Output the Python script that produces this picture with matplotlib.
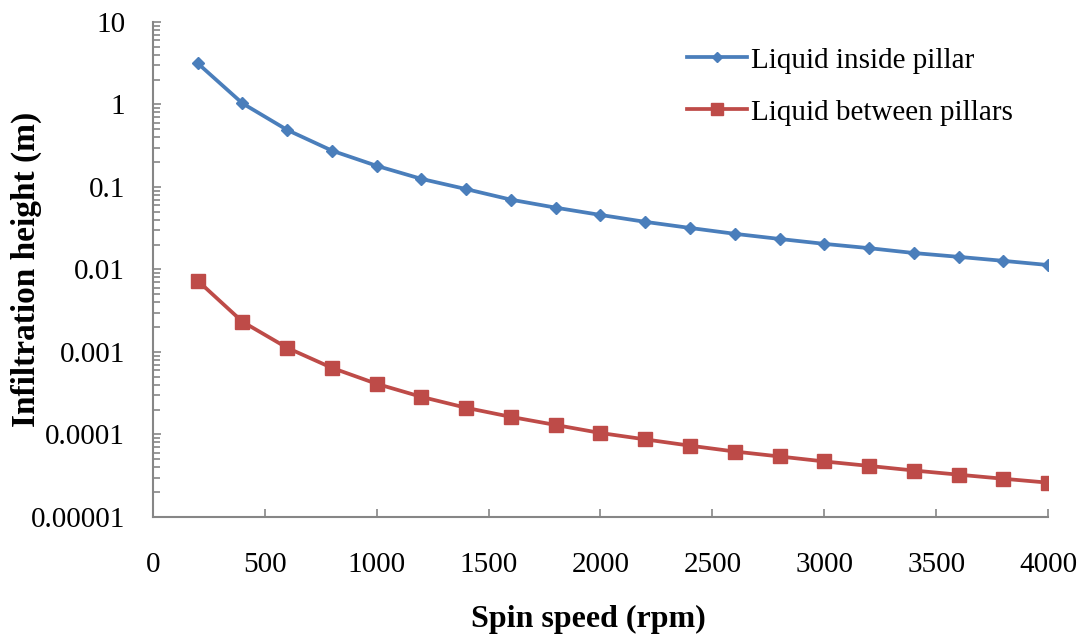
import matplotlib
matplotlib.use("Agg")
import matplotlib.pyplot as plt
from matplotlib.ticker import LogLocator, FixedLocator, FixedFormatter, NullFormatter

# Datos
rpm = [200, 400, 600, 800, 1000, 1200, 1400, 1600, 1800, 2000,
       2200, 2400, 2600, 2800, 3000, 3200, 3400, 3600, 3800, 4000]
inside_pillar = [3.15, 1.03, 0.49, 0.275, 0.18, 0.125, 0.094, 0.070, 0.056, 0.0457,
                 0.0377, 0.0318, 0.0270, 0.0234, 0.0204, 0.0181, 0.0158, 0.0142, 0.0127, 0.0113]
between_pillars = [0.0073, 0.00232, 0.00112, 0.00064, 0.00041, 0.000285, 0.00021, 0.000163,
                   0.00013, 0.000104, 8.7e-5, 7.3e-5, 6.2e-5, 5.4e-5, 4.7e-5, 4.15e-5,
                   3.65e-5, 3.25e-5, 2.9e-5, 2.6e-5]

x_ticks = [0, 500, 1000, 1500, 2000, 2500, 3000, 3500, 4000]
y_ticks = [1e-5, 1e-4, 1e-3, 1e-2, 1e-1, 1, 10]
y_labels = ["0.00001", "0.0001", "0.001", "0.01", "0.1", "1", "10"]

plt.rcParams['font.family'] = ['Liberation Serif', 'DejaVu Serif']

fig = plt.figure(figsize=(10.81, 6.35), dpi=100)
ax = fig.add_axes([0.1415, 0.186, 0.828, 0.7795])

blue = '#4a7ebb'
red = '#be4b48'
ax.plot(rpm, inside_pillar, color=blue, lw=2.7, marker='D', ms=6.5,
        label='Liquid inside pillar')
ax.plot(rpm, between_pillars, color=red, lw=2.7, marker='s', ms=9.5,
        label='Liquid between pillars')

ax.set_yscale('log')
ax.set_xlim(0, 4000)
ax.set_ylim(1e-5, 10)
ax.xaxis.set_major_locator(FixedLocator(x_ticks))
ax.yaxis.set_major_locator(FixedLocator(y_ticks))
ax.yaxis.set_major_formatter(FixedFormatter(y_labels))
ax.yaxis.set_minor_locator(LogLocator(base=10, subs=range(2, 10), numticks=20))
ax.yaxis.set_minor_formatter(NullFormatter())

gris = '#868686'
for s in ['top', 'right']:
    ax.spines[s].set_visible(False)
for s in ['left', 'bottom']:
    ax.spines[s].set_color(gris)
    ax.spines[s].set_linewidth(1.5)
ax.tick_params(axis='both', which='major', direction='in', length=6, width=1.2,
               color=gris, labelsize=21)
ax.tick_params(axis='y', which='minor', direction='in', length=5, width=1.2, color=gris)
ax.tick_params(axis='x', pad=25)
ax.tick_params(axis='y', pad=20)

ax.set_xlabel('Spin speed (rpm)', fontsize=23, fontweight='bold', va='center')
ax.xaxis.set_label_coords(0.487, -0.208)
ax.set_ylabel('Infiltration height (m)', fontsize=24, fontweight='bold', va='center')
ax.yaxis.set_label_coords(-0.141, 0.5)

ax.legend(loc='upper left', bbox_to_anchor=(0.567, 1.002), frameon=False,
          fontsize=21, handlelength=2.05, handletextpad=0.17, labelspacing=0.88,
          markerscale=0.85)

fig.savefig('out.png', dpi=100)
